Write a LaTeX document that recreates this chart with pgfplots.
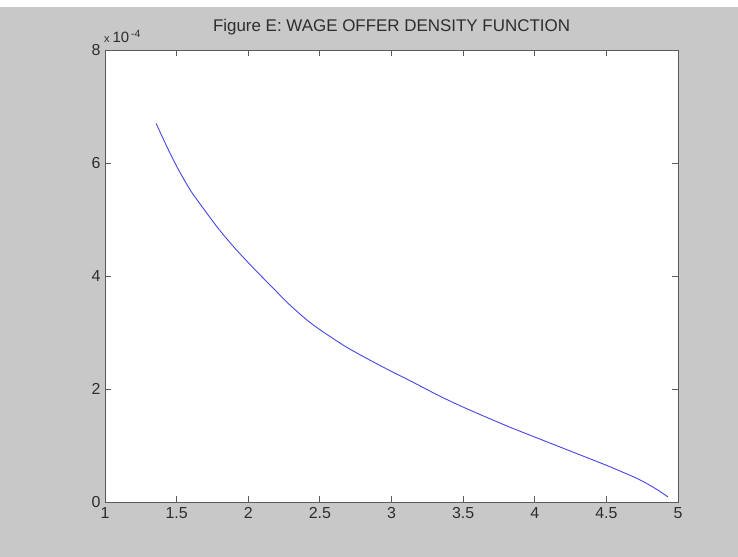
\documentclass[border=0pt]{standalone}
\usepackage{pgfplots}
\pgfplotsset{compat=1.18}
\usepackage{fontspec}
\setmainfont{Liberation Sans}
\definecolor{figgray}{RGB}{200,200,200}
\definecolor{txt}{RGB}{45,45,45}
\definecolor{axgray}{RGB}{90,90,90}
\definecolor{curve}{RGB}{70,70,230}
\begin{document}
\begin{tikzpicture}
\fill[figgray] (-105bp,-55bp) rectangle (633bp,495bp);
\fill[white] (-105bp,495bp) rectangle (633bp,502bp);
\begin{axis}[
  at={(0bp,0bp)}, anchor=south west,
  scale only axis, width=573bp, height=452bp,
  xmin=1, xmax=5, ymin=0, ymax=8e-4,
  axis background/.style={fill=white},
  xtick={1,1.5,2,2.5,3,3.5,4,4.5,5},
  ytick={0,2e-4,4e-4,6e-4,8e-4},
  scaled y ticks=base 10:4,
  ytick scale label code/.code={{\fontsize{11}{12}\selectfont x}\hspace{3bp}10\textsuperscript{\,-4}},
  every y tick scale label/.style={at={(rel axis cs:0,1)}, anchor=south west, inner sep=0pt, xshift=0bp, yshift=7bp, font=\fontsize{15}{17}\selectfont, text=txt},
  tick align=inside,
  xtick pos=both, ytick pos=both,
  major tick length=6bp,
  axis line style={axgray, line width=0.9bp},
  every tick/.style={axgray, line width=0.9bp},
  /pgf/number format/assume math mode=true,
  tick label style={font=\fontsize{16}{18}\selectfont, text=txt},
  xticklabel style={yshift=-2bp},
  yticklabel style={xshift=-1bp},
  title={Figure E: WAGE OFFER DENSITY FUNCTION},
  title style={at={(0.5,1)}, anchor=base, yshift=13bp, font=\fontsize{17}{19}\selectfont, text=txt},
]
\addplot[curve, line width=0.9bp, smooth] coordinates {
(1.357,6.70e-4)
(1.43,6.30e-4)
(1.505,5.92e-4)
(1.598,5.51e-4)
(1.70,5.15e-4)
(1.785,4.86e-4)
(1.89,4.54e-4)
(1.995,4.25e-4)
(2.09,4.00e-4)
(2.18,3.77e-4)
(2.26,3.56e-4)
(2.346,3.36e-4)
(2.42,3.20e-4)
(2.50,3.05e-4)
(2.60,2.88e-4)
(2.68,2.75e-4)
(2.77,2.62e-4)
(2.88,2.47e-4)
(3.00,2.31e-4)
(3.15,2.12e-4)
(3.34,1.87e-4)
(3.50,1.68e-4)
(3.69,1.47e-4)
(3.85,1.30e-4)
(4.00,1.15e-4)
(4.18,0.97e-4)
(4.34,0.81e-4)
(4.50,0.65e-4)
(4.64,0.50e-4)
(4.72,0.41e-4)
(4.78,0.33e-4)
(4.86,0.21e-4)
(4.93,0.09e-4)
};
\end{axis}
\end{tikzpicture}
\end{document}
